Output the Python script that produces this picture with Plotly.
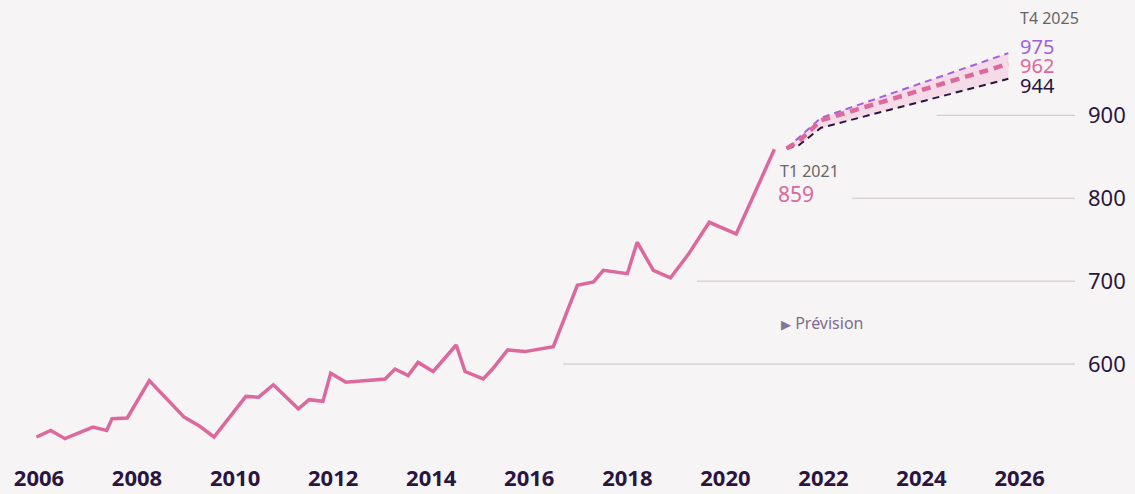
import plotly.graph_objects as go

# Historical index (quarterly-ish observations, decimal years)
hist_year = [2005.95, 2006.24, 2006.53, 2007.10, 2007.38, 2007.49, 2007.80, 2008.25,
             2008.96, 2009.28, 2009.57, 2010.22, 2010.48, 2010.78, 2011.29, 2011.51,
             2011.79, 2011.95, 2012.26, 2013.06, 2013.26, 2013.53, 2013.73, 2014.04,
             2014.51, 2014.69, 2015.06, 2015.25, 2015.56, 2015.91, 2016.49, 2016.98,
             2017.31, 2017.51, 2018.00, 2018.20, 2018.53, 2018.88, 2019.24, 2019.67,
             2020.22, 2021.00]
hist_value = [512, 520, 510, 524, 520, 534, 535, 580,
              536, 525, 512, 561, 560, 575, 546, 557,
              555, 589, 578, 582, 594, 586, 602, 591,
              623, 591, 582, 594, 617, 615, 621, 695,
              699, 713, 709, 747, 713, 704, 732, 771,
              757, 859]

# Forecast scenarios
fc_year = [2021.25, 2021.5, 2021.95, 2025.77]
fc_high = [860, 873, 897, 975]
fc_mid = [860, 869, 894, 962]
fc_low = [860, 864, 885, 944]

y_ticks = [600, 700, 800, 900]
x_ticks = [2006, 2008, 2010, 2012, 2014, 2016, 2018, 2020, 2022, 2024, 2026]
# left start (decimal year) of each horizontal guide line
grid_start = [2016.69, 2019.42, 2022.58, 2024.31]
X_RIGHT = 2027.13

PINK = "#dc689d"
PURPLE = "#a45ee0"
DARK = "#2a1540"
GREY = "#666666"
BG = "#f7f4f5"
FONT = "Noto Sans"

fig = go.Figure()

# uncertainty band between low and high scenarios
fig.add_trace(go.Scatter(x=fc_year, y=fc_low, mode="lines", line=dict(width=0),
                         hoverinfo="skip", showlegend=False))
fig.add_trace(go.Scatter(x=fc_year, y=fc_high, mode="lines", line=dict(width=0),
                         fill="tonexty", fillcolor="rgba(240,170,205,0.35)",
                         hoverinfo="skip", showlegend=False))

fig.add_trace(go.Scatter(x=fc_year, y=fc_low, mode="lines",
                         line=dict(color=DARK, width=2, dash="7px,5px"), showlegend=False))
fig.add_trace(go.Scatter(x=fc_year, y=fc_high, mode="lines",
                         line=dict(color=PURPLE, width=2, dash="7px,5px"), showlegend=False))
fig.add_trace(go.Scatter(x=fc_year, y=fc_mid, mode="lines",
                         line=dict(color=PINK, width=4.5, dash="9px,6px"), showlegend=False))

fig.add_trace(go.Scatter(x=hist_year, y=hist_value, mode="lines",
                         line=dict(color=PINK, width=3.5), showlegend=False))

# horizontal guides running to the right edge of the plot area
for g, v in zip(grid_start, y_ticks):
    fig.add_shape(type="line", xref="x", yref="y", x0=g, x1=X_RIGHT, y0=v, y1=v,
                  line=dict(color="#c9c5ca", width=1), layer="below")

# annotations
fig.add_annotation(x=2021.07, y=833, xref="x", yref="y", text="T1 2021", showarrow=False,
                   xanchor="left", font=dict(family=FONT, size=16, color=GREY))
fig.add_annotation(x=2021.03, y=805, xref="x", yref="y", text=str(hist_value[-1]),
                   showarrow=False, xanchor="left",
                   font=dict(family=FONT, size=21, color=PINK))
fig.add_annotation(x=2025.97, y=1017, xref="x", yref="y", text="T4 2025", showarrow=False,
                   xanchor="left", font=dict(family=FONT, size=16, color=GREY))
for val, col, ypos in [(fc_high[-1], PURPLE, 983), (fc_mid[-1], PINK, 960), (fc_low[-1], DARK, 936)]:
    fig.add_annotation(x=2025.97, y=ypos, xref="x", yref="y", text=str(val), showarrow=False,
                       xanchor="left", font=dict(family=FONT, size=20, color=col))

fig.add_annotation(x=2021.1, y=649, xref="x", yref="y",
                   text="<span style='font-size:13px;color:#857596'>▶</span> Prévision",
                   showarrow=False, xanchor="left",
                   font=dict(family=FONT, size=16, color="#7d6e8c"))

fig.update_layout(
    width=1135, height=494,
    margin=dict(l=0, r=60, t=0, b=40),
    paper_bgcolor=BG, plot_bgcolor=BG,
    xaxis=dict(range=[2005.205, X_RIGHT], tickvals=x_ticks, showgrid=False, zeroline=False,
               showline=False, ticks="", ticklabelstandoff=9, automargin=False,
               tickfont=dict(family=FONT, size=22, color=DARK, weight="bold")),
    yaxis=dict(range=[491.5, 1039.1], side="right", tickvals=y_ticks, showgrid=False,
               zeroline=False, showline=False, ticks="", ticklabelstandoff=12,
               automargin=False,
               tickfont=dict(family=FONT, size=22, color=DARK)),
)

fig.write_html("out.html")
